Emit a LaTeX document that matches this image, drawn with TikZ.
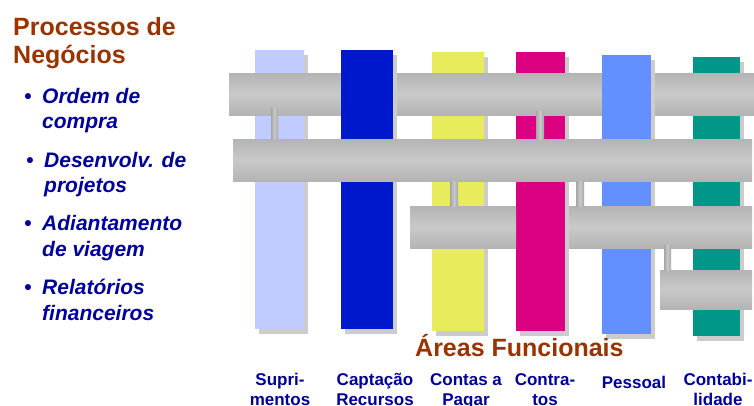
\documentclass[tikz,border=0pt]{standalone}
\usepackage{fontspec}
\setmainfont{Liberation Sans}
\usetikzlibrary{calc,shadows}

\definecolor{procbrown}{HTML}{993300}
\definecolor{navytext}{HTML}{000099}
\definecolor{supcol}{HTML}{C0CCFF}
\definecolor{capcol}{HTML}{0018CC}
\definecolor{ctacol}{HTML}{E8EB5C}
\definecolor{ctrcol}{HTML}{DB0080}
\definecolor{pescol}{HTML}{6490FF}
\definecolor{ctbcol}{HTML}{009688}
\definecolor{shadowgray}{HTML}{CCCCCC}
\definecolor{pipeedge}{HTML}{B4B4B4}
\definecolor{pipemid}{HTML}{C9C9C9}

\tikzset{
  area/.style   ={inner sep=0pt,outer sep=0pt,anchor=north west,
                  general shadow={fill=shadowgray,shadow xshift=4pt,shadow yshift=-5pt}},
  pipe/.style   ={inner sep=0pt,outer sep=0pt,anchor=north west,
                  top color=pipeedge,bottom color=pipeedge,middle color=pipemid},
  link/.style   ={left color=pipeedge!92!black,right color=pipeedge!92!black,
                  middle color=pipemid},
  heading/.style={text=procbrown,font=\bfseries\fontsize{25}{28}\selectfont,
                  anchor=base west,inner sep=0pt},
  item/.style   ={text=navytext,font=\bfseries\itshape\fontsize{21}{25}\selectfont,
                  anchor=base west,inner sep=0pt},
  lbl/.style    ={text=navytext,font=\bfseries\fontsize{17}{20}\selectfont,
                  anchor=base,inner sep=0pt},
}

\begin{document}
\begin{tikzpicture}[x=1pt,y=-1pt]
\useasboundingbox (0,0) rectangle (754,405);

% ---- columns behind the first pipe ------------------------------------
\node[area,fill=supcol,minimum width=49,minimum height=279] (sup) at (255,50) {};
\node[area,fill=ctacol,minimum width=52,minimum height=279] (cta) at (432,52) {};
\node[area,fill=ctrcol,minimum width=49,minimum height=279] (ctr) at (516,52) {};
\node[area,fill=ctbcol,minimum width=47,minimum height=279] (ctb) at (693,57) {};

% ---- first pipe --------------------------------------------------------
\node[pipe,minimum width=525,minimum height=42] (ordem) at (229,73) {};

% ---- columns in front of it --------------------------------------------
\node[area,fill=capcol,minimum width=52,minimum height=279] (cap) at (341,50) {};
\node[area,fill=pescol,minimum width=49,minimum height=279] (pes) at (602,55) {};

% ---- third pipe runs behind Contratos ----------------------------------
\node[pipe,minimum width=106,minimum height=42] (adtA) at (410,206) {};
\node[pipe,minimum width=183,minimum height=42] (adtB) at (569,206) {};

% ---- pipes in front of everything --------------------------------------
\node[pipe,minimum width=519,minimum height=42] (desenv) at (233,139) {};
\node[pipe,minimum width=92,minimum height=39] (relat) at (660,270) {};

% ---- links between pipes -----------------------------------------------
\shade[link] ($(ordem.south -| 271,0)+(0,-8)$) rectangle (desenv.north -| 278,0);
\shade[link] ($(ordem.south -| 536,0)+(0,-4)$) rectangle (desenv.north -| 544,0);
\shade[link] (desenv.south -| 450,0) rectangle (adtA.north -| 458,0);
\shade[link] (desenv.south -| 576,0) rectangle (adtB.north -| 584,0);
\shade[link] ($(adtB.south -| 664,0)+(0,-3)$) rectangle (relat.north -| 671,0);

% ---- business processes ------------------------------------------------
\node[heading] (proc1) at (13,35) {Processos de};
\node[heading] (proc2) at (13,63) {Negócios};

\node[item] (dot1) at (24,103) {\textbullet};
\node[item] (it1a) at (42,103) {Ordem de};
\node[item] (it1b) at (42,128) {compra};
\node[item] (dot2) at (26,167) {\textbullet};
\node[item] (it2a) at (44,167) {Desenvolv. de};
\node[item] (it2b) at (44,192) {projetos};
\node[item] (dot3) at (24,230) {\textbullet};
\node[item] (it3a) at (42,230) {Adiantamento};
\node[item] (it3b) at (42,256) {de viagem};
\node[item] (dot4) at (24,294) {\textbullet};
\node[item] (it4a) at (42,294) {Relatórios};
\node[item] (it4b) at (42,320) {financeiros};

% ---- functional areas --------------------------------------------------
\node[heading] (areas) at (415,356) {Áreas Funcionais};

\foreach \cx/\la/\lb [count=\i] in {280/Supri-/mentos,375/Captação/Recursos,
    466/Contas a/Pagar,545/Contra-/tos,718/Contabi-/lidade}{
  \node[lbl] (lbl\i-1) at (\cx,385) {\la};
  \node[lbl] (lbl\i-2) at (\cx,405) {\lb};
}
\node[lbl] (lblpes) at (634,388) {Pessoal};
\end{tikzpicture}
\end{document}
